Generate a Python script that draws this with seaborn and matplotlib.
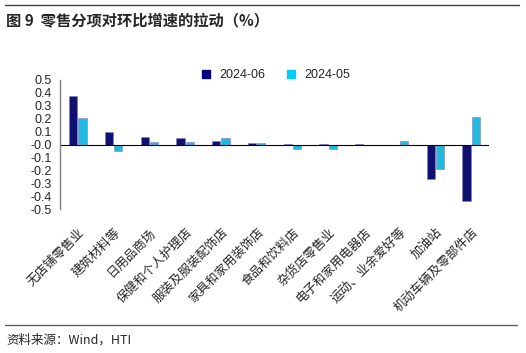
import pandas as pd
import numpy as np
import matplotlib.pyplot as plt
import seaborn as sns
from matplotlib.lines import Line2D

# --- 数据 ---
categories = ['无店铺零售业', '建筑材料等', '日用品商场', '保健和个人护理店', '服装及服装配饰店',
              '家具和家用装饰店', '食品和饮料店', '杂货店零售业', '电子和家用电器店',
              '运动、业余爱好等', '加油站', '机动车辆及零部件店']
jun_2024 = [0.376, 0.096, 0.057, 0.052, 0.026, 0.013, 0.005, 0.005, 0.004, 0.0, -0.264, -0.44]
may_2024 = [0.207, -0.049, 0.018, 0.021, 0.052, 0.012, -0.034, -0.034, 0.0, 0.026, -0.192, 0.212]
series = ['2024-06', '2024-05']
colors = ['#000080', '#00CCFF']

df = pd.DataFrame({'cat': categories * 2,
                   'val': jun_2024 + may_2024,
                   'series': [series[0]] * len(categories) + [series[1]] * len(categories)})

sns.set_style('white')
plt.rcParams['font.family'] = ['Liberation Sans', 'Noto Sans CJK SC', 'DejaVu Sans']

fig = plt.figure(figsize=(5.26, 3.53), dpi=100)
ax = fig.add_axes([60 / 526, 1 - 209 / 353, 429 / 526, 129 / 353])

sns.barplot(data=df, x='cat', y='val', hue='series', palette=colors, ax=ax,
            width=0.52, gap=0.12, edgecolor='#8080c0', linewidth=0.4, legend=False)

ax.set_ylim(-0.5, 0.5)
ax.set_xlim(-0.5, len(categories) - 0.5)
ax.set_yticks(np.arange(-0.5, 0.51, 0.1))
ax.set_yticklabels([f'{v:.1f}' for v in np.arange(-0.5, 0.51, 0.1)], fontsize=9)
ax.tick_params(axis='y', length=0, pad=6)
ax.tick_params(axis='x', length=0, pad=12)
ax.set_xticks(range(len(categories)))
ax.set_xticklabels(categories, rotation=45, ha='right', rotation_mode='anchor',
                   fontsize=9, family=['Noto Sans CJK SC', 'DejaVu Sans'])
ax.set_xlabel('')
ax.set_ylabel('')
ax.axhline(0, color='black', lw=0.8)
for s in ['top', 'right', 'bottom']:
    ax.spines[s].set_visible(False)
ax.spines['left'].set_color('#808080')
ax.spines['left'].set_linewidth(1)

handles = [Line2D([], [], marker='s', ls='', color=c, markersize=5.5) for c in colors]
fig.legend(handles, series, loc='center', bbox_to_anchor=(272 / 526, 1 - 75 / 353), ncol=2,
           frameon=False, fontsize=9, handletextpad=0.1, columnspacing=1.0)

# 标题与来源
fig.add_artist(Line2D([5 / 526, 519 / 526], [1 - 5 / 353, 1 - 5 / 353], color='#404040', lw=1))
fig.text(6 / 526, 1 - 20 / 353, '图 9  零售分项对环比增速的拉动（%）', fontsize=11, fontweight='bold',
         va='center', family=['Noto Sans CJK SC', 'DejaVu Sans'])
fig.add_artist(Line2D([5 / 526, 517 / 526], [1 - 325 / 353, 1 - 325 / 353], color='#606060', lw=1))
fig.text(6 / 526, 1 - 340 / 353, '资料来源：Wind，HTI', fontsize=9, va='center',
         family=['Noto Sans CJK SC', 'DejaVu Sans'])

fig.savefig('out.png', dpi=100)
